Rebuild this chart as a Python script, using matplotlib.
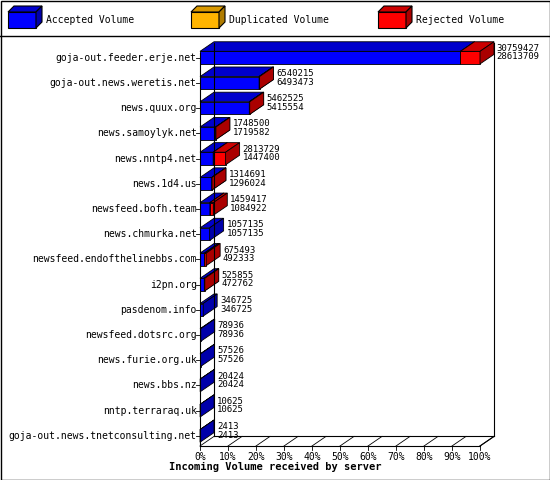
import matplotlib
matplotlib.use('Agg')
import matplotlib.pyplot as plt
from matplotlib.patches import Polygon, Rectangle

servers = ['goja-out.feeder.erje.net', 'goja-out.news.weretis.net', 'news.quux.org',
           'news.samoylyk.net', 'news.nntp4.net', 'news.1d4.us', 'newsfeed.bofh.team',
           'news.chmurka.net', 'newsfeed.endofthelinebbs.com', 'i2pn.org', 'pasdenom.info',
           'newsfeed.dotsrc.org', 'news.furie.org.uk', 'news.bbs.nz', 'nntp.terraraq.uk',
           'goja-out.news.tnetconsulting.net']
total = [30759427, 6540215, 5462525, 1748500, 2813729, 1314691, 1459417, 1057135,
         675493, 525855, 346725, 78936, 57526, 20424, 10625, 2413]
accepted = [28613709, 6493473, 5415554, 1719582, 1447400, 1296024, 1084922, 1057135,
            492333, 472762, 346725, 78936, 57526, 20424, 10625, 2413]
ticks = [0, 10, 20, 30, 40, 50, 60, 70, 80, 90, 100]

W, H = 550, 480
fig = plt.figure(figsize=(W / 100, H / 100), dpi=100)
mono = 'DejaVu Sans Mono'

# outer frame and legend separator
fig.patches.append(Rectangle((0.5 / W, 0.5 / H), 1 - 1 / W, 1 - 1 / H, transform=fig.transFigure,
                             fill=False, ec='black', lw=1))
fig.lines.append(plt.Line2D([0, 1], [1 - 36 / H, 1 - 36 / H], transform=fig.transFigure, color='black', lw=1))

def fig_cube(x, y, w, h, d, face, side, top):
    # x, y in pixels (top-left origin)
    def P(px, py):
        return (px / W, 1 - py / H)
    front = [P(x, y), P(x + w, y), P(x + w, y + h), P(x, y + h)]
    tp = [P(x, y), P(x + d, y - d), P(x + w + d, y - d), P(x + w, y)]
    sd = [P(x + w, y), P(x + w + d, y - d), P(x + w + d, y + h - d), P(x + w, y + h)]
    for pts, c in ((front, face), (tp, top), (sd, side)):
        fig.patches.append(Polygon(pts, closed=True, transform=fig.transFigure, fc=c, ec='black', lw=0.8))

legend = [('Accepted Volume', '#0000ff', '#0000aa', '#0000cc', 8),
          ('Duplicated Volume', '#ffb400', '#b07c00', '#d89800', 191),
          ('Rejected Volume', '#ff0000', '#aa0000', '#cc0000', 378)]
for name, f, s, t, lx in legend:
    fig_cube(lx, 12, 28, 16, 6, f, s, t)
    fig.text((lx + 38) / W, 1 - 20 / H, name, family=mono, fontsize=7, va='center')

ax = fig.add_axes([200 / W, 1 - 446 / H, 280 / W, 406 / H])
ax.set_xlim(0, 100)
ax.set_ylim(15.4, -0.7)
ax.axis('off')

dx, dy = 5.0, 0.38
hh = 0.25
ymin, ymax = -0.7, 15.4
k = dict(clip_on=False)

# walls
ax.plot([0, 0], [ymax, -0.2], color='black', lw=0.8, **k)
ax.plot([dx, dx], [ymax - dy, -0.2 - dy], color='black', lw=0.8, **k)
ax.plot([0, 100], [ymax, ymax], color='black', lw=0.8, **k)
ax.plot([dx, 100 + dx], [ymax - dy, ymax - dy], color='black', lw=0.8, **k)
ax.plot([100, 100 + dx], [ymax, ymax - dy], color='black', lw=0.8, **k)
ax.plot([100 + dx, 100 + dx], [ymax - dy, -0.2 - dy], color='black', lw=0.8, **k)
for t in ticks:
    ax.plot([t, t + dx], [ymax, ymax - dy], color='black', lw=0.6, **k)
    ax.plot([t, t], [ymax, ymax + 0.15], color='black', lw=0.6, **k)
    ax.text(t, ymax + 0.25, f'{t}%', family=mono, fontsize=7, ha='center', va='top', **k)

def bar(x0, x1, y, face, side, top):
    front = [(x0, y - hh), (x1, y - hh), (x1, y + hh), (x0, y + hh)]
    tp = [(x0, y - hh), (x0 + dx, y - hh - dy), (x1 + dx, y - hh - dy), (x1, y - hh)]
    sd = [(x1, y - hh), (x1 + dx, y - hh - dy), (x1 + dx, y + hh - dy), (x1, y + hh)]
    for pts, c in ((front, face), (tp, top), (sd, side)):
        ax.add_patch(Polygon(pts, closed=True, fc=c, ec='black', lw=0.6, **k))

mx = max(total)
for i, (name, tot, acc) in enumerate(zip(servers, total, accepted)):
    a = acc / mx * 100
    tt = tot / mx * 100
    ax.plot([-1.5, 0], [i, i], color='black', lw=0.6, **k)
    ax.text(-1.2, i, name, family=mono, fontsize=7, ha='right', va='center', **k)
    bar(0, a, i, '#0000ff', '#0000aa', '#0000cc')
    if tot > acc:
        bar(a, tt, i, '#ff0000', '#aa0000', '#cc0000')
    ax.text(tt + dx + 1, i - 0.2, f'{tot}\n{acc}', family=mono, fontsize=6.5,
            ha='left', va='center', linespacing=0.95, **k)

fig.text(275 / W, 1 - 467 / H, 'Incoming Volume received by server', family=mono,
         fontsize=7.5, fontweight='bold', ha='center', va='center')

fig.savefig('out.png', dpi=100)
